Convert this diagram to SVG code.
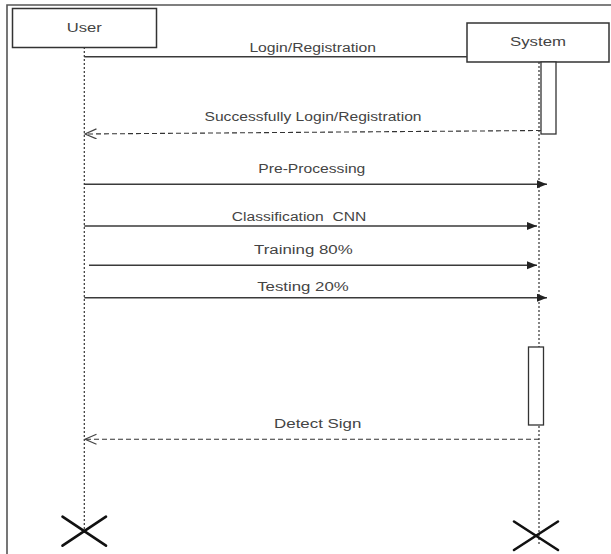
<svg xmlns="http://www.w3.org/2000/svg" width="611" height="554" viewBox="0 0 611 554">
  <style>
    .box { fill: #ffffff; stroke: #333333; stroke-width: 1.5; }
    .act { fill: #ffffff; stroke: #333333; stroke-width: 1.3; }
    .life { stroke: #333333; stroke-width: 1.2; stroke-dasharray: 2 2; fill: none; }
    .msg { stroke: #3a3a3a; stroke-width: 1.4; fill: none; }
    .ret { stroke: #333333; stroke-width: 1.1; stroke-dasharray: 5 3; fill: none; }
    .lbl { font-family: "Liberation Sans", Arial, sans-serif; font-size: 12.5px; fill: #444444; text-anchor: middle; }
    .x { stroke: #111111; stroke-width: 2.6; stroke-linecap: round; }
    .frame { stroke: #555555; stroke-width: 1.6; fill: none; }
  </style>
  <defs>
    <marker id="filled" markerUnits="userSpaceOnUse" markerWidth="11" markerHeight="9" refX="10" refY="4" orient="auto">
      <path d="M0,0 L10,4 L0,8 z" fill="#222222"/>
    </marker>
    <marker id="open" markerUnits="userSpaceOnUse" markerWidth="14" markerHeight="12" refX="12" refY="5.5" orient="auto">
      <path d="M0.5,0.5 L12,5.5 L0.5,10.5" fill="none" stroke="#444444" stroke-width="1.2"/>
    </marker>
  </defs>

  <rect width="611" height="554" fill="#ffffff"/>
  <path class="frame" d="M7,554 L7,5 L611,5"/>

  <g id="lifelines">
    <line class="life" x1="84.3" y1="47" x2="84.3" y2="534"/>
    <line class="life" x1="539" y1="62" x2="539" y2="546"/>
  </g>

  <g id="user">
    <rect class="box" x="12.5" y="8.5" width="144" height="39"/>
    <text class="lbl" x="84.2" y="31.7" textLength="35" lengthAdjust="spacingAndGlyphs">User</text>
  </g>

  <g id="system">
    <rect class="box" x="467" y="23" width="142" height="39"/>
    <text class="lbl" x="538" y="46" textLength="56" lengthAdjust="spacingAndGlyphs">System</text>
  </g>

  <g id="activation1">
    <rect class="act" x="541" y="62" width="15" height="72"/>
  </g>

  <g id="activation2">
    <rect class="act" x="528.5" y="347" width="15" height="78"/>
  </g>

  <g id="connectors">
    <line class="msg" x1="84.3" y1="56.7" x2="467" y2="56.7"/>
    <line class="ret" x1="541" y1="130.5" x2="85" y2="134" marker-end="url(#open)"/>
    <line class="msg" x1="84.3" y1="184.3" x2="547" y2="184.3" marker-end="url(#filled)"/>
    <line class="msg" x1="84.3" y1="226" x2="537" y2="226" marker-end="url(#filled)"/>
    <line class="msg" x1="89" y1="265.3" x2="537" y2="265.3" marker-end="url(#filled)"/>
    <line class="msg" x1="84.3" y1="297.7" x2="547" y2="297.7" marker-end="url(#filled)"/>
    <line class="ret" x1="539" y1="439.3" x2="85" y2="439.3" marker-end="url(#open)"/>
  </g>

  <g id="labels">
    <text class="lbl" x="312.7" y="52.3" textLength="126.6" lengthAdjust="spacingAndGlyphs">Login/Registration</text>
    <text class="lbl" x="313" y="120.7" textLength="217" lengthAdjust="spacingAndGlyphs">Successfully Login/Registration</text>
    <text class="lbl" x="311.8" y="172.7" textLength="107" lengthAdjust="spacingAndGlyphs">Pre-Processing</text>
    <text class="lbl" x="299" y="221.3" textLength="134.4" lengthAdjust="spacingAndGlyphs" xml:space="preserve">Classification  CNN</text>
    <text class="lbl" x="303.4" y="254.3" textLength="98.6" lengthAdjust="spacingAndGlyphs">Training 80%</text>
    <text class="lbl" x="303" y="291.3" textLength="91.6" lengthAdjust="spacingAndGlyphs">Testing 20%</text>
    <text class="lbl" x="317.7" y="427.7" textLength="87.3" lengthAdjust="spacingAndGlyphs">Detect Sign</text>
  </g>

  <g id="user-destroy">
    <line class="x" x1="62.5" y1="516.7" x2="106" y2="545.7"/>
    <line class="x" x1="106" y1="516.7" x2="62.5" y2="545.7"/>
  </g>
  <g id="system-destroy">
    <line class="x" x1="514" y1="521.5" x2="558" y2="550"/>
    <line class="x" x1="558" y1="521.5" x2="514" y2="550"/>
  </g>
</svg>
